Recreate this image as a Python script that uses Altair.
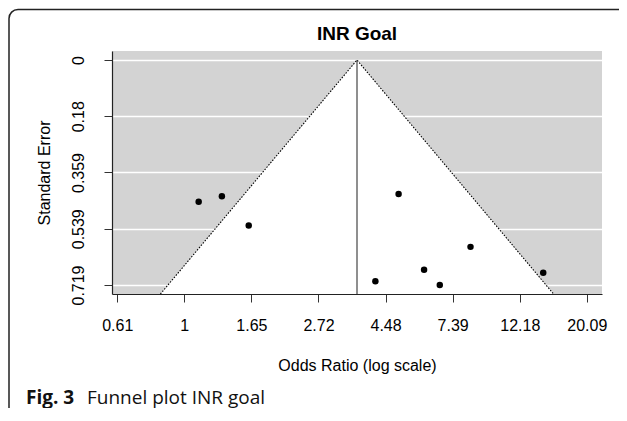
import altair as alt
import pandas as pd

# ---- data (log odds ratio scale) ----
log_or = [0.107, 0.280, 0.480, 1.597, 2.133, 1.787, 1.424, 1.904, 2.675]
std_err = [0.453, 0.435, 0.529, 0.428, 0.597, 0.670, 0.707, 0.7188, 0.680]
center_est = 1.287          # pooled log odds ratio (vertical line)
z_crit = 1.96

x_tick_values = [-0.5, 0, 0.5, 1, 1.5, 2, 2.5, 3]
x_tick_labels = ["0.61", "1", "1.65", "2.72", "4.48", "7.39", "12.18", "20.09"]
y_tick_values = [0, 0.1797, 0.3594, 0.5391, 0.7188]
y_tick_labels = ["0", "0.18", "0.359", "0.539", "0.719"]

x_domain = [-0.539, 3.113]
y_domain = [-0.02875, 0.74755]

title_text = ["INR Goal"]
x_title = "Odds Ratio (log scale)"
y_title = "Standard Error"
caption_bold = ["Fig. 3"]
caption_rest = ["Funnel plot INR goal"]

FONT = "Liberation Sans"
CAP_FONT = "Open Sans"


def label_expr(values, labels):
    arr_l = "[" + ",".join("'" + s + "'" for s in labels) + "]"
    arr_v = "[" + ",".join(repr(v) for v in values) + "]"
    return arr_l + "[indexof(" + arr_v + ", datum.value)]"


pts = pd.DataFrame({"lor": log_or, "se": std_err})
yb = y_domain[1]
tri = pd.DataFrame({
    "se": [0, yb],
    "lo": [center_est, center_est - z_crit * yb],
    "hi": [center_est, center_est + z_crit * yb],
})
edges = pd.DataFrame({
    "x": [center_est - z_crit * yb, center_est, center_est + z_crit * yb],
    "y": [yb, 0, yb],
    "o": [0, 1, 2],
})
vline = pd.DataFrame({"c": [center_est], "y0": [0], "y1": [yb]})

xs = alt.Scale(domain=x_domain, nice=False, zero=False)
ys = alt.Scale(domain=y_domain, nice=False, zero=False, reverse=True)

x_axis = alt.Axis(
    values=x_tick_values, labelExpr=label_expr(x_tick_values, x_tick_labels),
    title=x_title, grid=False,
    domainColor="#222", domainWidth=1.2, tickColor="#333", tickWidth=1, tickSize=8,
    labelFont=FONT, labelFontSize=16, labelColor="black", labelPadding=15,
    labelFlush=False, labelOverlap=False,
    titleFont=FONT, titleFontSize=16, titleFontWeight="normal", titleColor="black",
    titleX=245, titleY=76.7, titleAlign="center", titleBaseline="alphabetic",
)
y_axis = alt.Axis(
    values=y_tick_values, labelExpr=label_expr(y_tick_values, y_tick_labels),
    title=y_title, grid=True, gridColor="white", gridWidth=1.5,
    domainColor="#222", domainWidth=1.2, tickColor="#333", tickWidth=1, tickSize=8,
    labelFont=FONT, labelFontSize=16, labelColor="black", labelPadding=21,
    labelAngle=270, labelAlign="center", labelBaseline="alphabetic",
    labelFlush=False, labelOverlap=False,
    titleFont=FONT, titleFontSize=16, titleFontWeight="normal", titleColor="black",
    titleAngle=270, titleX=-63, titleY=121.5, titleAlign="center", titleBaseline="alphabetic",
)

area = alt.Chart(tri).mark_area(orient="horizontal", color="white", opacity=1).encode(
    y=alt.Y("se:Q", scale=ys, axis=y_axis),
    x=alt.X("lo:Q", scale=xs, axis=x_axis),
    x2="hi:Q",
)
edge_lines = alt.Chart(edges).mark_line(
    color="black", strokeWidth=1.1, strokeDash=[1.5, 1.5]
).encode(
    x=alt.X("x:Q", scale=xs, axis=x_axis),
    y=alt.Y("y:Q", scale=ys, axis=y_axis),
    order="o:Q",
)
center_line = alt.Chart(vline).mark_rule(color="#333", strokeWidth=1.1).encode(
    x=alt.X("c:Q", scale=xs, axis=x_axis),
    y=alt.Y("y0:Q", scale=ys, axis=y_axis),
    y2="y1:Q",
)
points = alt.Chart(pts).mark_circle(size=42, color="black", opacity=1).encode(
    x=alt.X("lor:Q", scale=xs, axis=x_axis),
    y=alt.Y("se:Q", scale=ys, axis=y_axis),
)

title = alt.Chart(pd.DataFrame({"t": title_text})).mark_text(
    font=FONT, fontSize=19, fontWeight="bold", align="center", baseline="alphabetic", color="black"
).encode(text="t:N", x=alt.value(245), y=alt.value(-11))

cap1 = alt.Chart(pd.DataFrame({"t": caption_bold})).mark_text(
    font=CAP_FONT, fontSize=19, fontWeight="bold", align="left", baseline="alphabetic", color="#111"
).encode(text="t:N", x=alt.value(-86), y=alt.value(352.5))
cap2 = alt.Chart(pd.DataFrame({"t": caption_rest})).mark_text(
    font=CAP_FONT, fontSize=19, align="left", baseline="alphabetic", color="#111"
).encode(text="t:N", x=alt.value(-25), y=alt.value(352.5))

frame = alt.Chart(pd.DataFrame({"a": [0]})).mark_rect(
    fillOpacity=0, stroke="#222", strokeWidth=1.5, cornerRadius=9
).encode(x=alt.value(-103), x2=alt.value(560), y=alt.value(-41.5), y2=alt.value(367))

chart = alt.layer(area, edge_lines, center_line, points, title, cap1, cap2, frame).properties(
    width=490, height=243,
    autosize=alt.AutoSizeParams(type="none"),
    padding={"left": 104, "top": 43, "right": 17, "bottom": 114},
).configure_view(fill="#d3d3d3", strokeWidth=0)

chart.save("out.html", embed_options={"renderer": "svg", "actions": False})
